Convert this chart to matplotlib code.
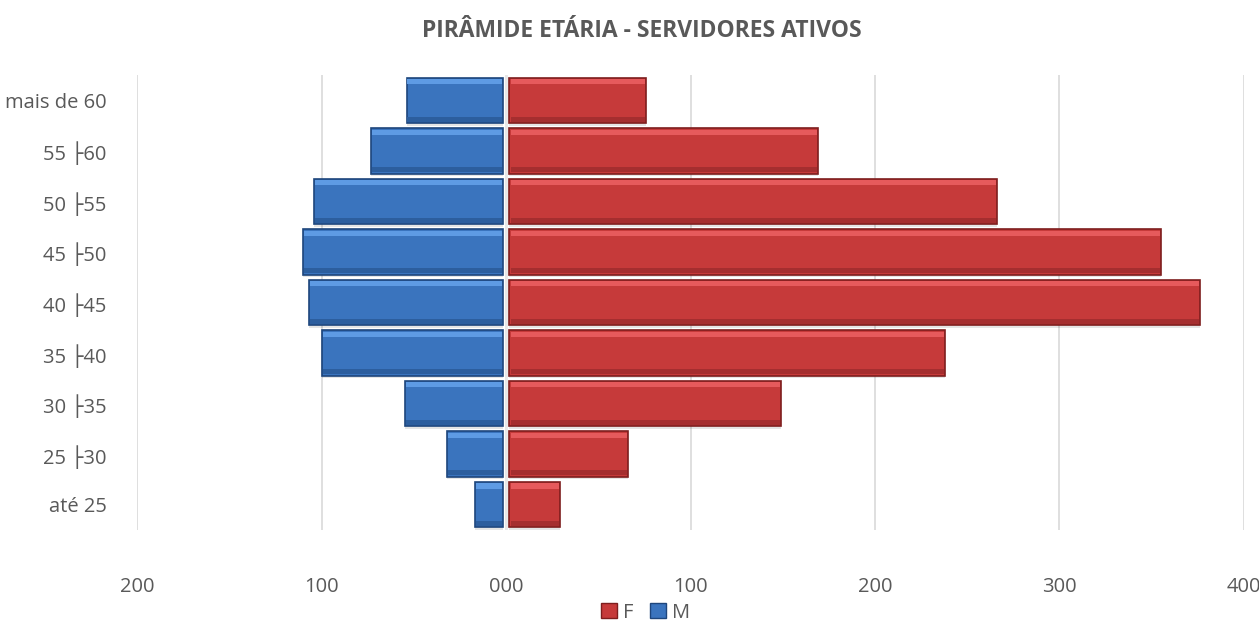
import matplotlib.pyplot as plt
import numpy as np
from matplotlib.patches import Patch

# age groups, bottom to top
faixas = ['até 25', '25 ├30', '30 ├35', '35 ├40', '40 ├45', '45 ├50', '50 ├55', '55 ├60', 'mais de 60']
masc = [17, 32, 55, 100, 107, 110, 104, 73, 54]
fem = [29, 66, 149, 238, 376, 355, 266, 169, 76]
xticks = [-200, -100, 0, 100, 200, 300, 400]

plt.rcParams['font.family'] = ['Open Sans', 'DejaVu Sans']
grey = '#595959'

fig = plt.figure(figsize=(12.59, 6.22), dpi=100)
ax = fig.add_axes([0.109, 0.148, 0.879, 0.731])

y = np.arange(len(faixas))
h = 0.9
m = -np.array(masc)
f = np.array(fem)

# soft shadow below the bars
ax.barh(y - 0.05, m + 1.5, height=h, left=-1.5, color='#000000', alpha=0.10, zorder=1)
ax.barh(y - 0.05, f - 1.5, height=h, left=1.5, color='#000000', alpha=0.10, zorder=1)

# main bars
ax.barh(y, m + 1.5, height=h, left=-1.5, color='#3A74BE', edgecolor='#1E467C', linewidth=1.2, zorder=3)
ax.barh(y, f - 1.5, height=h, left=1.5, color='#C63A3A', edgecolor='#7E1E1E', linewidth=1.2, zorder=3)

# bevel highlight on top edge
ax.barh(y + h / 2 - 0.08, m + 3, height=0.1, left=-2.5, color='#5E9BE4', zorder=4)
ax.barh(y + h / 2 - 0.08, f - 3, height=0.1, left=2.5, color='#E65A5C', zorder=4)
# darker lower band
ax.barh(y - h / 2 + 0.08, m + 3, height=0.1, left=-2.5, color='#2C5E9E', zorder=4)
ax.barh(y - h / 2 + 0.08, f - 3, height=0.1, left=2.5, color='#A52E2F', zorder=4)

ax.set_xlim(-200, 400)
ax.set_ylim(-0.5, len(faixas) - 0.5)
ax.set_xticks(xticks)
ax.set_xticklabels(['%03d' % abs(v) for v in xticks], fontsize=14.5, color=grey)
ax.set_yticks(y)
ax.set_yticklabels(faixas, fontsize=14.5, color=grey)
ax.tick_params(axis='y', length=0, pad=22)
ax.tick_params(axis='x', length=0, pad=34)
ax.grid(axis='x', color='#D9D9D9', linewidth=1.2, zorder=0)
ax.set_axisbelow(True)
ax.axvline(0, color='#E8E8E8', linewidth=2, zorder=5)
for s in ax.spines.values():
    s.set_visible(False)

fig.text(0.51, 0.95, 'PIRÂMIDE ETÁRIA - SERVIDORES ATIVOS', ha='center', va='center',
         fontsize=16.5, fontweight='bold', color=grey)

handles = [Patch(facecolor='#C63A3A', edgecolor='#7E1E1E', label='F'),
           Patch(facecolor='#3A74BE', edgecolor='#1E467C', label='M')]
fig.legend(handles=handles, loc='center', bbox_to_anchor=(0.513, 0.015), ncol=2, frameon=False,
           fontsize=14.5, labelcolor=grey, handlelength=0.8, handleheight=0.8, handletextpad=0.3,
           columnspacing=0.8)

fig.savefig('out.png', dpi=100)
